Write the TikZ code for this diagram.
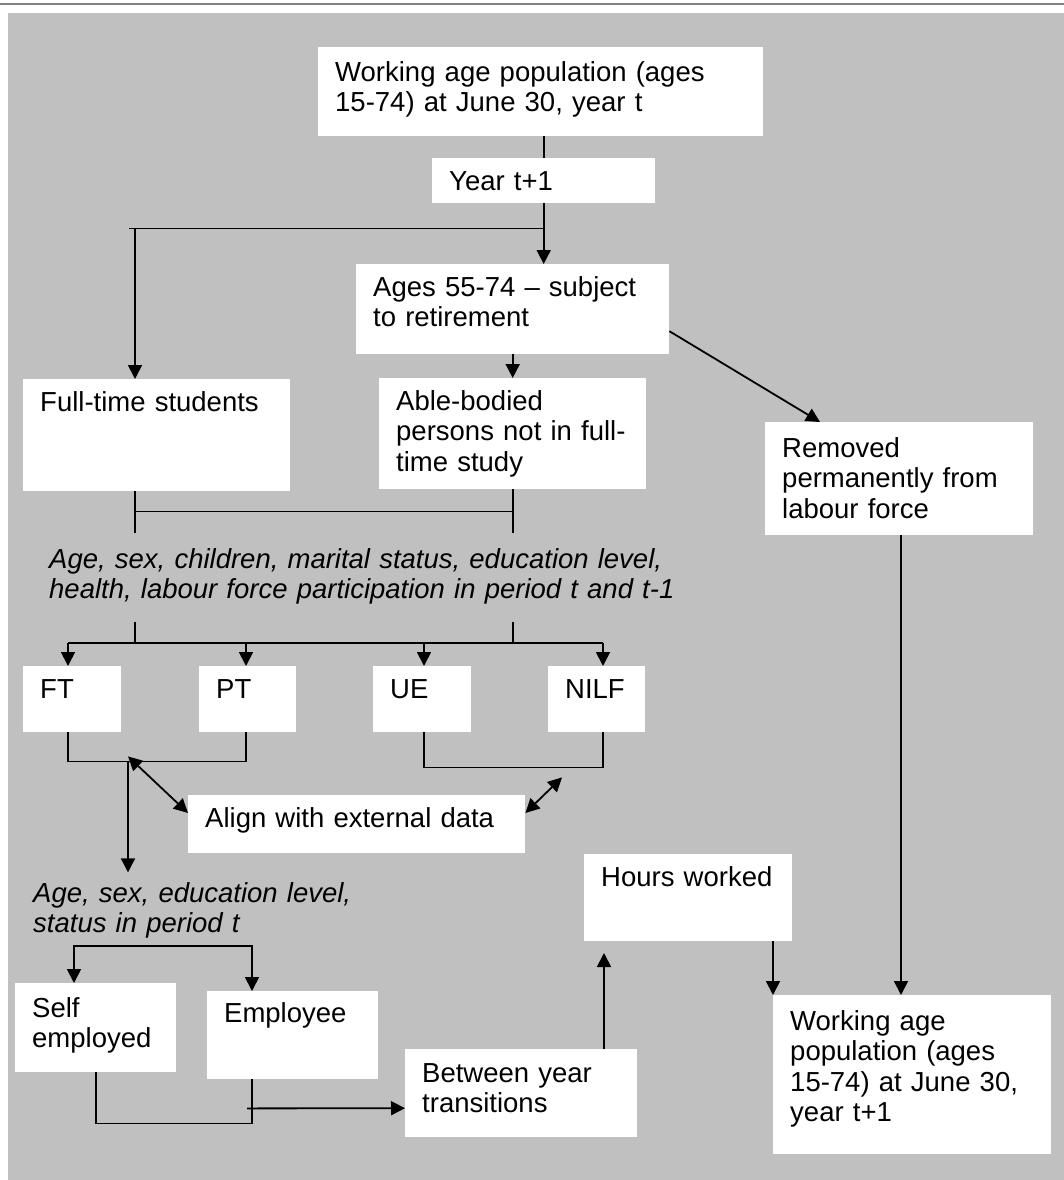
\documentclass[tikz,border=0pt]{standalone}
\usepackage{fontspec}
\setmainfont{Liberation Sans}
\usetikzlibrary{arrows.meta, positioning, calc}
\definecolor{panel}{RGB}{192,192,192}
\definecolor{rule}{RGB}{128,128,128}

\begin{document}
\begin{tikzpicture}[
    x=1pt, y=-1pt,
    box/.style={fill=white, anchor=north west, align=left, inner xsep=17pt, inner ysep=0pt, text height=32pt, font=\fontsize{27.5}{30.5}\selectfont},
    note/.style={anchor=base west, align=left, inner sep=0pt, text width=650pt, font=\fontsize{27.5}{30.5}\selectfont\itshape},
    link/.style={line width=1.8pt, black},
    arrow/.style={-{Triangle[width=14pt,length=14pt]}, link},
    both/.style={{Triangle[width=14pt,length=14pt]}-{Triangle[width=14pt,length=14pt]}, link},
]
    \useasboundingbox (0,0) rectangle (1064,1180);
    \fill[panel] (8,13) rectangle (1064,1180);
    \draw[rule, line width=1.8pt] (0,4) -- (1064,4);

    % boxes
    \node[box, text width=411pt, text height=34pt, text depth=55pt] (wap) at (318,47) {Working age population (ages\\15-74) at June 30, year t};
    \node[box, text width=189pt, text depth=13pt] (yr) at (432,158) {Year t+1};
    \node[box, text width=279pt, text depth=58pt] (ret) at (356,264) {Ages 55-74 – subject\\to retirement};
    \node[box, text width=233pt, text depth=80pt] (fts) at (23,379) {Full-time students};
    \node[box, text width=233pt, text depth=79pt] (abl) at (379,378) {Able-bodied\\persons not in full-\\time study};
    \node[box, text width=234pt, text height=35pt, text depth=78pt] (rmv) at (765,422) {Removed\\permanently from\\labour force};
    \node[box, text width=64pt, text depth=34pt] (ft) at (23,666) {FT};
    \node[box, text width=63pt, text depth=34pt] (pt) at (199,666) {PT};
    \node[box, text width=64pt, text depth=34pt] (ue) at (373,666) {UE};
    \node[box, text width=63pt, text depth=34pt] (nilf) at (548,666) {NILF};
    \node[box, text width=303pt, text depth=26pt] (aln) at (188,795) {Align with external data};
    \node[box, text width=174pt, text depth=55pt] (hrs) at (584,854) {Hours worked};
    \node[box, text width=127pt, text height=34pt, text depth=55pt] (slf) at (15,983) {Self\\employed};
    \node[box, text width=137pt, text height=31pt, text depth=57pt] (emp) at (207,991) {Employee};
    \node[box, text width=198pt, text height=33pt, text depth=55pt] (btw) at (405,1049) {Between year\\transitions};
    \node[box, text width=244pt, text height=35pt, text depth=124pt] (wap1) at (773,995) {Working age\\population (ages\\15-74) at June 30,\\year t+1};

    % conditioning variables
    \node[note] (cond) at (49,568) {Age, sex, children, marital status, education level,\\health, labour force participation in period t and t-1};
    \node[note, text width=400pt] (econd) at (33,902) {Age, sex, education level,\\status in period t};

    % top of the flow
    \draw[link] (yr.north |- wap.south) -- (yr.north);
    \draw[arrow] (yr.south) -- (yr.south |- ret.north);
    \coordinate (split) at ($(yr.south)+(0,25)$);
    \draw[link] (split) -- ++(-415,0);
    \draw[arrow] (split) -| ([xshift=112pt]fts.north west);
    \draw[arrow] (ret.south) -- (abl.north);
    \draw[arrow] ([yshift=-22pt]ret.east) -- ([xshift=55pt]rmv.north west);

    % join students and able-bodied
    \draw[link] ([xshift=112pt]fts.south west) coordinate (fa) -- ++(0,42);
    \draw[link] (abl.south) -- ++(0,44);
    \draw[link] ($(fa)+(0,20)$) -- ($(fa -| abl.south)+(0,20)$);

    % split into labour force states
    \coordinate (bar) at ([yshift=23pt]ft.north west);
    \draw[link] (bar -| fa) -- ++(0,-21);
    \draw[link] (bar -| abl.south) -- ++(0,-21);
    \draw[link] ([xshift=45pt, yshift=23pt]ft.north west) -- ([xshift=55pt, yshift=23pt]nilf.north west);
    \foreach \b/\dx in {ft/45, pt/47, ue/51, nilf/55}
        \draw[arrow] ([xshift=\dx pt, yshift=23pt]\b.north west) -- ([xshift=\dx pt]\b.north west);
    \draw[link] ([xshift=45pt]ft.south west) -- ++(0,29) -| ([xshift=47pt]pt.south west);
    \draw[link] ([xshift=51pt]ue.south west) -- ++(0,35) -| ([xshift=55pt]nilf.south west);

    % alignment
    \coordinate (ebr) at ($(ft.south west)+(105,29)$);
    \coordinate (ualn) at ($(nilf.south west)+(14,45)$);
    \draw[both] ($(ebr)+(0,-5)$) -- ([yshift=-18pt]aln.north west);
    \draw[both] ([yshift=-18pt]aln.north east) -- (ualn);
    \draw[arrow] (ebr) -- ++(0,111);

    % employed persons
    \draw[both] ([xshift=59pt]slf.north west) -- ++(0,-37) -| ([xshift=45pt]emp.north west);
    \draw[link] ([xshift=81pt]slf.south west) -- ++(0,51) -| ([xshift=45pt]emp.south west);
    \draw[arrow] ([xshift=40pt, yshift=-29pt]emp.south west) -- ([yshift=-15pt]btw.west);
    \draw[arrow] ([xshift=199pt]btw.north west) -- ++(0,-96);

    % next year
    \draw[arrow] ([xshift=189pt]hrs.south west) -- (wap1.north west);
    \draw[arrow] ([xshift=136pt]rmv.south west) -- ([xshift=128pt]wap1.north west);
\end{tikzpicture}
\end{document}
